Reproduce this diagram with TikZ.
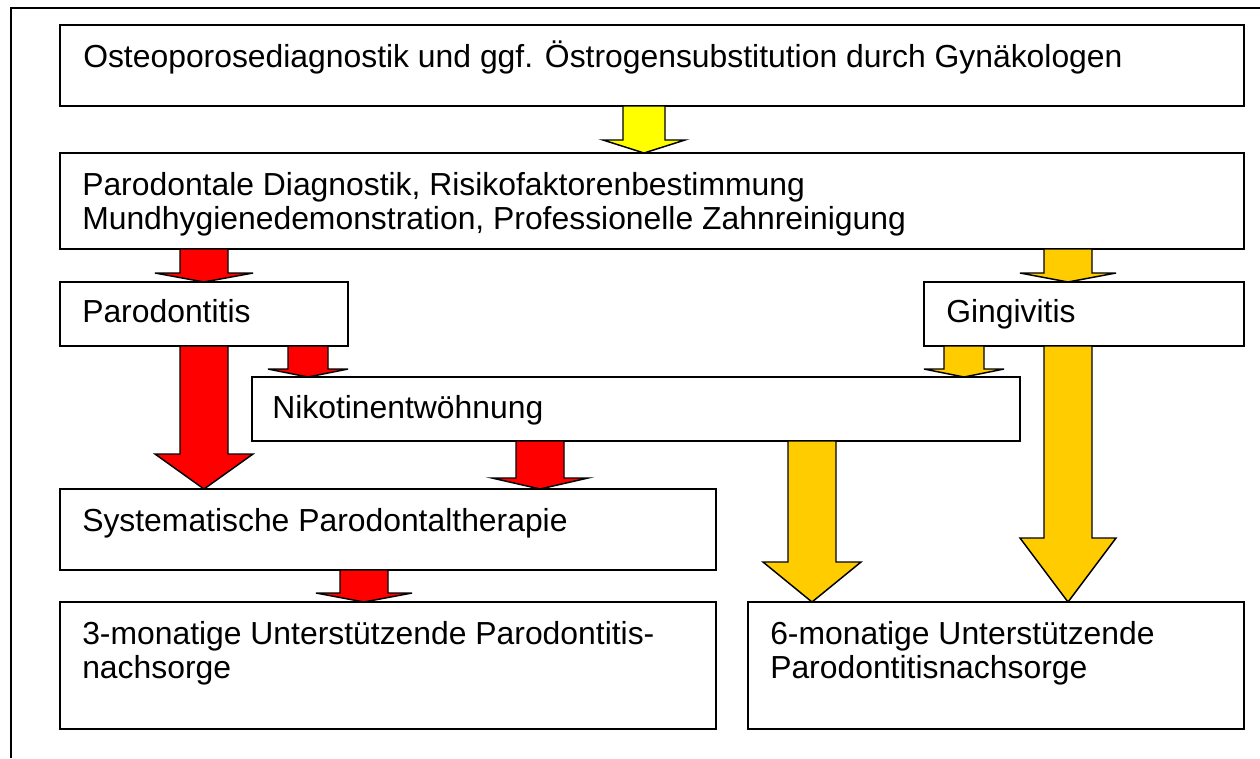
\documentclass[tikz,border=0pt]{standalone}
\usepackage{fontspec}
\setmainfont{Liberation Sans}
\usetikzlibrary{calc}
\definecolor{ayellow}{HTML}{FFFF00}
\definecolor{ared}{HTML}{FF0000}
\definecolor{agold}{HTML}{FFCC00}
\tikzset{
  frameline/.style={line width=1.5pt, draw=black},
  boxshape/.style={draw=black, line width=1.5pt, fill=white, rectangle, inner sep=0pt, outer sep=0pt, anchor=north west},
  boxtext/.style={anchor=base west, inner sep=0pt, font=\fontsize{23.9}{28}\selectfont},
  blockarrow/.style={draw=black, line width=1.1pt, line join=miter}
}
% \mkbox{name}{x1}{y1}{x2}{y2}
\newcommand\mkbox[5]{%
  \pgfmathsetmacro\bw{(#4-#2)*0.75}%
  \pgfmathsetmacro\bh{(#5-#3)*0.75}%
  \node[boxshape, minimum width=\bw pt, minimum height=\bh pt] (#1) at (#2,#3) {};}
% \barrow{cx}{from}{to}{halfshaft}{halfhead}{headlen}{colour}
\newcommand\barrow[7]{%
  \filldraw[blockarrow, fill=#7]
    ({#1-#4},0 |- #2.south) -- ({#1+#4},0 |- #2.south)
    -- ($({#1+#4},0 |- #3.north)+(0,-#6)$)
    -- ($({#1+#5},0 |- #3.north)+(0,-#6)$)
    -- (#1,0 |- #3.north)
    -- ($({#1-#5},0 |- #3.north)+(0,-#6)$)
    -- ($({#1-#4},0 |- #3.north)+(0,-#6)$)
    -- cycle;}
\begin{document}
\begin{tikzpicture}[x=0.75pt,y=-0.75pt]
\useasboundingbox (0,0) rectangle (1260,758);
\coordinate (fa) at (11,758);
\coordinate (fb) at (11,8);
\coordinate (fc) at (1262,8);
\draw[frameline] (fa) -- (fb) -- (fc);

\mkbox{osteo}{60}{25}{1244}{106}
\mkbox{diag}{60}{153}{1244}{249}
\mkbox{paro}{60}{282}{348}{346}
\mkbox{gingi}{924}{282}{1244}{346}
\mkbox{nikotin}{252}{377}{1020}{441}
\mkbox{syst}{60}{489}{716}{570}
\mkbox{drei}{60}{602}{716}{729}
\mkbox{sechs}{748}{602}{1244}{729}

\node[boxtext] (tosteo) at (83,67) {Osteoporosediagnostik und ggf. Östrogensubstitution durch Gynäkologen};
\node[boxtext] (tdiag1) at (82,195) {Parodontale Diagnostik, Risikofaktorenbestimmung};
\node[boxtext] (tdiag2) at (82,229) {Mundhygienedemonstration, Professionelle Zahnreinigung};
\node[boxtext] (tparo) at (82,322) {Parodontitis};
\node[boxtext] (tgingi) at (946,322) {Gingivitis};
\node[boxtext] (tnik) at (272,418) {Nikotinentwöhnung};
\node[boxtext] (tsyst) at (82,531) {Systematische Parodontaltherapie};
\node[boxtext] (tdrei1) at (82,644) {3-monatige Unterstützende Parodontitis-};
\node[boxtext] (tdrei2) at (82,678) {nachsorge};
\node[boxtext] (tsechs1) at (770,644) {6-monatige Unterstützende};
\node[boxtext] (tsechs2) at (770,678) {Parodontitisnachsorge};

\barrow{644}{osteo}{diag}{21}{41}{13}{ayellow}
\barrow{204}{diag}{paro}{24}{49}{9}{ared}
\barrow{1068}{diag}{gingi}{24}{48}{9}{agold}
\barrow{204}{paro}{syst}{24}{49}{35}{ared}
\barrow{308}{paro}{nikotin}{20}{40}{8}{ared}
\barrow{964}{gingi}{nikotin}{20}{40}{8}{agold}
\barrow{1068}{gingi}{sechs}{24}{48}{64}{agold}
\barrow{540}{nikotin}{syst}{24}{48}{11}{ared}
\barrow{812}{nikotin}{sechs}{24}{49}{40}{agold}
\barrow{364}{syst}{drei}{24}{48}{9}{ared}
\end{tikzpicture}
\end{document}
